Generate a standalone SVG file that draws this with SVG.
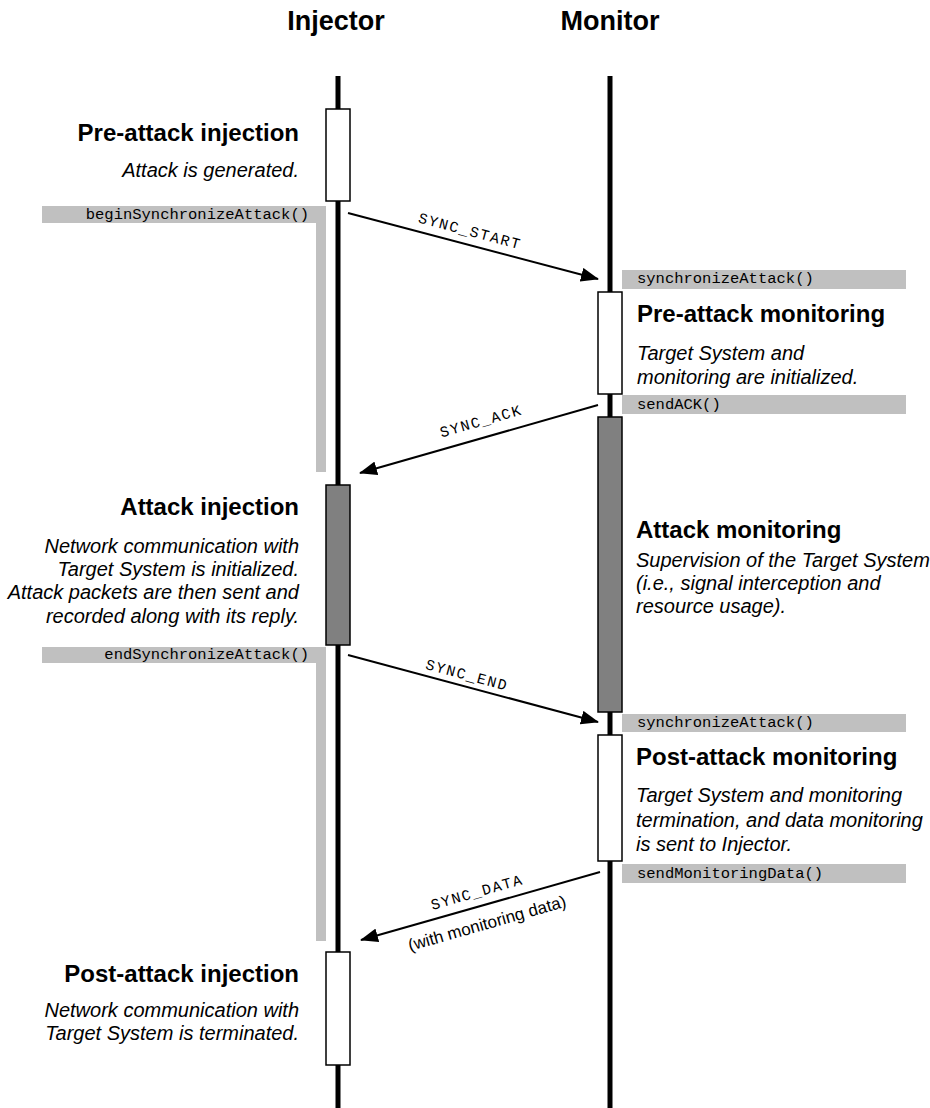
<svg xmlns="http://www.w3.org/2000/svg" width="930" height="1108" viewBox="0 0 930 1108">
  <style>
    .head { font-family: "Liberation Sans", Arial, sans-serif; font-weight: bold; font-size: 27px; fill: #000; text-anchor: middle; }
    .title { font-family: "Liberation Sans", Arial, sans-serif; font-weight: bold; font-size: 24px; fill: #000; }
    .desc { font-family: "Liberation Sans", Arial, sans-serif; font-style: italic; font-size: 20px; fill: #000; }
    .right { text-anchor: end; }
    .method { font-family: "Liberation Mono", "Courier New", monospace; font-size: 15.5px; fill: #000; }
    .msg { font-family: "Liberation Mono", "Courier New", monospace; font-size: 15px; letter-spacing: 1.6px; fill: #000; text-anchor: middle; }
    .note { font-family: "Liberation Sans", Arial, sans-serif; font-size: 17px; fill: #000; text-anchor: middle; }
    .life { stroke: #000; stroke-width: 5; fill: none; }
    .bar { fill: #c0c0c0; }
    .act { fill: #fff; stroke: #000; stroke-width: 1.5; }
    .act-busy { fill: #808080; stroke: #000; stroke-width: 1.5; }
    .link { stroke: #000; stroke-width: 2; fill: none; marker-end: url(#head); }
  </style>
  <defs>
    <marker id="head" viewBox="0 0 18 14" refX="17" refY="7" markerWidth="18" markerHeight="14" markerUnits="userSpaceOnUse" orient="auto">
      <path d="M0,0 L18,7 L0,14 Z" fill="#000"/>
    </marker>
  </defs>

  <rect width="930" height="1108" fill="#fff"/>

  <!-- Lifelines with headers -->
  <g id="injector">
    <text class="head" x="336" y="30">Injector</text>
    <line class="life" x1="338" y1="76" x2="338" y2="1108"/>
  </g>
  <g id="monitor">
    <text class="head" x="610" y="30">Monitor</text>
    <line class="life" x1="610" y1="76" x2="610" y2="1108"/>
  </g>

  <!-- Injector side -->
  <g id="pre-attack-injection">
    <rect class="act" x="326" y="109" width="24" height="92"/>
    <text class="title right" x="299" y="141">Pre-attack injection</text>
    <text class="desc right" x="299" y="177">Attack is generated.</text>
  </g>
  <g id="begin-synchronize-attack">
    <path class="bar" d="M42,206 H326 V472 H316 V223 H42 Z"/>
    <text class="method right" x="309" y="219">beginSynchronizeAttack()</text>
  </g>
  <g id="attack-injection">
    <rect class="act-busy" x="326" y="485" width="24" height="160"/>
    <text class="title right" x="299" y="515">Attack injection</text>
    <text class="desc right" x="299" y="553">Network communication with</text>
    <text class="desc right" x="299" y="576">Target System is initialized.</text>
    <text class="desc right" x="299" y="599">Attack packets are then sent and</text>
    <text class="desc right" x="299" y="623">recorded along with its reply.</text>
  </g>
  <g id="end-synchronize-attack">
    <path class="bar" d="M42,647 H326 V941 H316 V663 H42 Z"/>
    <text class="method right" x="309" y="659">endSynchronizeAttack()</text>
  </g>
  <g id="post-attack-injection">
    <rect class="act" x="326" y="952" width="24" height="113"/>
    <text class="title right" x="299" y="982">Post-attack injection</text>
    <text class="desc right" x="299" y="1017">Network communication with</text>
    <text class="desc right" x="299" y="1040">Target System is terminated.</text>
  </g>

  <!-- Monitor side -->
  <g id="synchronize-attack-1">
    <rect class="bar" x="622" y="270" width="284" height="19"/>
    <text class="method" x="637" y="283">synchronizeAttack()</text>
  </g>
  <g id="pre-attack-monitoring">
    <rect class="act" x="598" y="292" width="24" height="102"/>
    <text class="title" x="637" y="322">Pre-attack monitoring</text>
    <text class="desc" x="637" y="360">Target System and</text>
    <text class="desc" x="637" y="384">monitoring are initialized.</text>
  </g>
  <g id="send-ack">
    <rect class="bar" x="622" y="395" width="284" height="19"/>
    <text class="method" x="637" y="409">sendACK()</text>
  </g>
  <g id="attack-monitoring">
    <rect class="act-busy" x="598" y="417" width="24" height="295"/>
    <text class="title" x="636" y="538">Attack monitoring</text>
    <text class="desc" x="636" y="567">Supervision of the Target System</text>
    <text class="desc" x="636" y="590">(i.e., signal interception and</text>
    <text class="desc" x="636" y="613">resource usage).</text>
  </g>
  <g id="synchronize-attack-2">
    <rect class="bar" x="622" y="714" width="284" height="18"/>
    <text class="method" x="637" y="727">synchronizeAttack()</text>
  </g>
  <g id="post-attack-monitoring">
    <rect class="act" x="598" y="735" width="24" height="126"/>
    <text class="title" x="636" y="765">Post-attack monitoring</text>
    <text class="desc" x="636" y="802">Target System and monitoring</text>
    <text class="desc" x="636" y="827">termination, and data monitoring</text>
    <text class="desc" x="636" y="851">is sent to Injector.</text>
  </g>
  <g id="send-monitoring-data">
    <rect class="bar" x="622" y="864" width="284" height="19"/>
    <text class="method" x="637" y="878">sendMonitoringData()</text>
  </g>

  <!-- Messages -->
  <g id="connectors">
    <line class="link" x1="348" y1="213" x2="598" y2="279"/>
    <text class="msg" transform="translate(470,231) rotate(14.8)" x="0" y="5">SYNC_START</text>

    <line class="link" x1="598" y1="405" x2="360" y2="473"/>
    <text class="msg" transform="translate(481,421) rotate(-15.9)" x="0" y="5">SYNC_ACK</text>

    <line class="link" x1="348" y1="655" x2="598" y2="722"/>
    <text class="msg" transform="translate(467,675) rotate(15)" x="0" y="5">SYNC_END</text>

    <line class="link" x1="600" y1="872" x2="361" y2="940"/>
    <text class="msg" transform="translate(477,892) rotate(-15.9)" x="0" y="5">SYNC_DATA</text>
    <text class="note" transform="translate(487,923) rotate(-15.9)" x="0" y="6">(with monitoring data)</text>
  </g>
</svg>
